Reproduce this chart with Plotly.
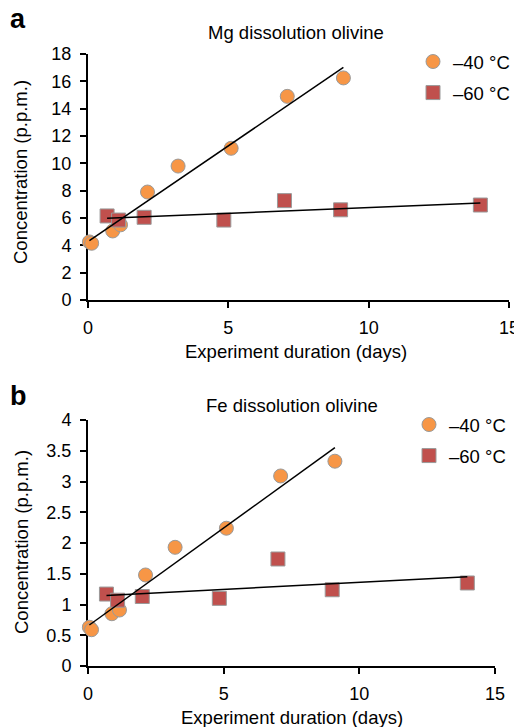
import numpy as np
import plotly.graph_objects as go

# ---- data ----
days_40 = [0.05, 0.13, 0.88, 1.16, 2.12, 3.21, 5.1, 7.1, 9.1]
days_60 = [0.68, 1.09, 2.0, 4.84, 7.0, 9.0, 13.98]

mg_40 = [4.25, 4.15, 5.05, 5.5, 7.9, 9.8, 11.1, 14.9, 16.25]
mg_60 = [6.15, 5.85, 6.05, 5.85, 7.27, 6.6, 6.95]

fe_40 = [0.63, 0.59, 0.85, 0.91, 1.48, 1.93, 2.24, 3.09, 3.33]
fe_60 = [1.17, 1.07, 1.13, 1.10, 1.74, 1.24, 1.35]

series_names = ["\u201340 \u00b0C", "\u201360 \u00b0C"]
panel_titles = ["Mg dissolution olivine", "Fe dissolution olivine"]
panel_letters = ["a", "b"]
x_title = "Experiment duration (days)"
y_title = "Concentration (p.p.m.)"

ORANGE = "#F79646"
RED = "#C0504D"
EDGE = "#9A9A9A"
FONT = "Liberation Sans, Arial, Helvetica, sans-serif"

PAGE_W, PAGE_H = 522, 727
OFF = 8  # default body margin of the html page
W, H = PAGE_W - OFF, PAGE_H - OFF


def px_x(p):
    return (p - OFF) / W


def px_y(p):
    return 1 - (p - OFF) / H


fig = go.Figure()


def trend(xs, ys):
    k, b = np.polyfit(xs, ys, 1)
    xx = np.array([min(xs), max(xs)])
    return xx, k * xx + b


panels = [
    dict(x40=days_40, y40=mg_40, x60=days_60, y60=mg_60, xa="x", ya="y", leg="legend"),
    dict(x40=days_40, y40=fe_40, x60=days_60, y60=fe_60, xa="x2", ya="y2", leg="legend2"),
]

for i, p in enumerate(panels):
    fig.add_trace(go.Scatter(
        x=p["x40"], y=p["y40"], mode="markers", name=series_names[0],
        marker=dict(symbol="circle", size=14, color=ORANGE, line=dict(color=EDGE, width=1)),
        xaxis=p["xa"], yaxis=p["ya"], legend=p["leg"], legendgroup=f"g40_{i}",
        cliponaxis=False,
    ))
    fig.add_trace(go.Scatter(
        x=p["x60"], y=p["y60"], mode="markers", name=series_names[1],
        marker=dict(symbol="square", size=14, color=RED, line=dict(color=EDGE, width=1)),
        xaxis=p["xa"], yaxis=p["ya"], legend=p["leg"], legendgroup=f"g60_{i}",
        cliponaxis=False,
    ))
    for xs, ys in ((p["x40"], p["y40"]), (p["x60"], p["y60"])):
        tx, ty = trend(xs, ys)
        fig.add_trace(go.Scatter(
            x=tx, y=ty, mode="lines", line=dict(color="black", width=1.5),
            xaxis=p["xa"], yaxis=p["ya"], showlegend=False, hoverinfo="skip",
            cliponaxis=False,
        ))

TICK = 18
axis_common = dict(
    showgrid=False, zeroline=False, showline=True, linecolor="black", linewidth=2,
    ticks="outside", ticklen=6, tickwidth=1.5, tickcolor="black",
    tickfont=dict(family=FONT, size=TICK, color="black"),
    layer="below traces", fixedrange=True, automargin=False,
)

# pixel geometry (page pixels) of the two plot areas
A = dict(l=88, r=509, t=54, b=300)
B = dict(l=88, r=495, t=420, b=666)

fig.update_layout(
    width=W, height=H,
    margin=dict(l=0, r=0, t=0, b=0, autoexpand=False),
    paper_bgcolor="white", plot_bgcolor="white",
    font=dict(family=FONT, size=18, color="black"),
    xaxis=dict(domain=[px_x(A["l"]), px_x(A["r"])], range=[0, 15], dtick=5, anchor="y",
               ticklabelstandoff=4, **axis_common),
    yaxis=dict(domain=[px_y(A["b"]), px_y(A["t"])], range=[0, 18], dtick=2, anchor="x",
               ticklabelstandoff=5, **axis_common),
    xaxis2=dict(domain=[px_x(B["l"]), px_x(B["r"])], range=[0, 15], dtick=5, anchor="y2",
                ticklabelstandoff=4, **axis_common),
    yaxis2=dict(domain=[px_y(B["b"]), px_y(B["t"])], range=[0, 4], dtick=0.5, anchor="x2",
                ticklabelstandoff=5, **axis_common),
    legend=dict(x=px_x(413), y=px_y(43), xanchor="left", yanchor="top",
                bgcolor="rgba(0,0,0,0)", tracegroupgap=4, itemsizing="trace",
                font=dict(family=FONT, size=18.5, color="black")),
    legend2=dict(x=px_x(409), y=px_y(406), xanchor="left", yanchor="top",
                 bgcolor="rgba(0,0,0,0)", tracegroupgap=4, itemsizing="trace",
                 font=dict(family=FONT, size=18.5, color="black")),
    showlegend=True,
)

annos = []
# panel letters
annos.append(dict(text="<b>a</b>", x=px_x(8), y=px_y(19), xanchor="left", yanchor="middle",
                  font=dict(size=27)))
annos.append(dict(text="<b>b</b>", x=px_x(8), y=px_y(396), xanchor="left", yanchor="middle",
                  font=dict(size=27)))
# panel titles
annos.append(dict(text=panel_titles[0], x=px_x(296), y=px_y(32), xanchor="center", yanchor="middle",
                  font=dict(size=18.5)))
annos.append(dict(text=panel_titles[1], x=px_x(292), y=px_y(405), xanchor="center", yanchor="middle",
                  font=dict(size=18.5)))
# x titles
annos.append(dict(text=x_title, x=px_x(296), y=px_y(351), xanchor="center", yanchor="middle",
                  font=dict(size=18.5)))
annos.append(dict(text=x_title, x=px_x(292), y=px_y(717), xanchor="center", yanchor="middle",
                  font=dict(size=18.5)))
# y titles
annos.append(dict(text=y_title, x=px_x(21), y=px_y(172), xanchor="center", yanchor="middle",
                  textangle=-90, font=dict(size=18.5)))
annos.append(dict(text=y_title, x=px_x(21), y=px_y(542), xanchor="center", yanchor="middle",
                  textangle=-90, font=dict(size=18.5)))

for a in annos:
    a.update(xref="paper", yref="paper", showarrow=False)
fig.update_layout(annotations=annos)

fig.write_html("out.html")
